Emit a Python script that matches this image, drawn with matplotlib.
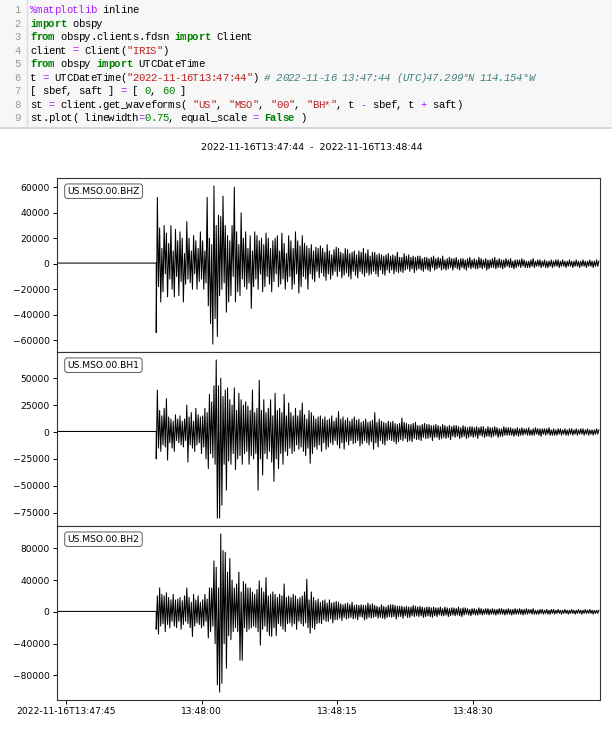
import matplotlib
matplotlib.use('Agg')
import matplotlib.pyplot as plt
import numpy as np
from matplotlib.patches import Rectangle
from matplotlib.ticker import FixedLocator, MultipleLocator

# --- data ---
start_label = "2022-11-16T13:47:44"
end_label = "2022-11-16T13:48:44"
trace_ids = ["US.MSO.00.BHZ", "US.MSO.00.BH1", "US.MSO.00.BH2"]
tick_seconds = [1, 16, 31, 46]
tick_labels = ["2022-11-16T13:47:45", "13:48:00", "13:48:15", "13:48:30"]
ytick_steps = [20000, 25000, 40000]

# flat part before the first arrival (seconds after start, counts/1000)
pre_t = [0.0, 11.0]
pre_v = [0.5, 0.5]
onset = 11.0
dt = 0.125   # 8 values per second after the onset, one row = one second

# counts / 1000
bhz = [
    -54, 52, -18, 28, -30, 12, -22, 30,    # 11 s
    -8, 24, -26, 16, -12, 30, -20, 10,
    -26, 27, -10, 18, -25, 25, -14, 20,
    -30, 8, -16, 33, -12, 20, -15, 10,
    -20, 22, -8, 18, -20, 12, -14, 25,     # 15 s
    -12, 18, -20, 10, -15, 52, -33, 20,
    -47, 15, -63, 61, -43, 30, -57, 38,
    -25, 37, -20, 53, -15, 30, -38, 22,
    -30, 18, -25, 30, -10, 60, -30, 25,
    -22, 15, -25, 40, -12, 20, -18, 25,    # 20 s
    -20, 12, -15, 22, -35, 10, -18, 25,
    -12, 22, -20, 18, -8, 20, -22, 15,
    -18, 24, -10, 20, -16, 12, -22, 18,
    -14, 20, -8, 22, -18, 10, -16, 24,
    -12, 16, -20, 8, -14, 22, -10, 18,     # 25 s
    -20, 12, -16, 25, -8, 18, -23, 14,
    -18, 22, -10, 16, -12, 14, -20, 12,
    -8, 15, -12, 10, -14, 13, -6, 12,
    -11, 14, -7, 12, -10, 9, -13, 15,
    -8, 10, -12, 7, -9, 11, -6, 13,        # 30 s
    -10, 12, -6, 9, -11, 8, -9, 12,
    -7, 11, -10, 8, -12, 9, -6, 10,
    -9, 7, -11, 10, -6, 9, -8, 12,
    -10, 8, -7, 11, -9, 6, -8, 9,
    -6, 9, -8, 7, -10, 8, -5, 7,           # 35 s
    -8, 6, -9, 7, -5, 8, -7, 6,
    -5, 7, -8, 6, -6, 9, -7, 5,
    -6, 5, -7, 8, -5, 6, -4, 7,
    -6, 5, -4, 6, -7, 5, -5, 6,
    -4, 6, -5, 4, -6, 5, -4, 5,            # 40 s
    -5, 4, -6, 5, -3, 6, -5, 4,
    -4, 5, -3, 4, -5, 6, -4, 3,
    -5, 4, -4, 5, -3, 4, -5, 4,
    -3, 5, -4, 3, -5, 4, -3, 4,
    -4, 3, -5, 4, -3, 5, -4, 3,            # 45 s
    -3, 4, -4, 3, -4, 5, -3, 4,
    -4, 3, -3, 4, -5, 3, -4, 3,
    -3, 4, -3, 5, -4, 3, -3, 4,
    -3, 3, -4, 3, -3, 4, -2, 3,
    -3, 4, -3, 2, -4, 3, -3, 3,            # 50 s
    -2, 3, -3, 4, -2, 3, -3, 2,
    -3, 2, -3, 3, -2, 4, -3, 2,
    -2, 3, -2, 3, -3, 2, -2, 3,
    -3, 2, -3, 2, -2, 3, -3, 2,
    -2, 3, -2, 3, -3, 2, -2, 3,            # 55 s
    -2, 2, -3, 2, -2, 3, -2, 2,
    -3, 2, -2, 3, -2, 2, -3, 2,
    -2, 3, -2, 2, -3, 2, -2, 3,
    -2, 2, -3, 2, -2, 3, -2, 2,
]
bh1 = [
    -25, 39, -15, 20, -18, 15, -12, 22,    # 11 s
    -14, 31, -26, 14, -10, 12, -15, 10,
    -18, 16, -8, 12, -10, 15, -12, 10,
    -14, 12, -8, 25, -28, 14, -12, 18,
    -15, 10, -18, 22, -12, 16, -10, 14,    # 15 s
    -20, 15, -14, 22, -25, 18, -34, 35,
    -20, 28, -24, 43, -30, 67, -80, 43,
    -80, 50, -68, 33, -30, 39, -54, 41,
    -27, 30, -30, 25, -20, 41, -35, 20,
    -25, 36, -22, 30, -30, 25, -20, 28,    # 20 s
    -18, 24, -30, 20, -22, 39, -25, 18,
    -20, 22, -54, 48, -25, 20, -40, 30,
    -20, 18, -25, 22, -18, 30, -28, 15,
    -46, 36, -25, 20, -34, 22, -20, 18,
    -30, 35, -18, 15, -22, 27, -15, 18,    # 25 s
    -20, 15, -18, 22, -12, 15, -16, 20,
    -14, 27, -18, 16, -22, 12, -15, 20,
    -29, 18, -20, 15, -14, 12, -16, 14,
    -12, 15, -18, 12, -10, 14, -16, 11,
    -14, 12, -10, 15, -12, 10, -8, 13,     # 30 s
    -12, 19, -15, 12, -10, 14, -16, 11,
    -9, 13, -12, 10, -8, 12, -11, 14,
    -10, 11, -8, 12, -13, 9, -11, 10,
    -8, 12, -10, 9, -12, 10, -9, 11,
    -16, 18, -10, 9, -14, 12, -8, 10,      # 35 s
    -11, 9, -12, 8, -8, 10, -7, 9,
    -8, 10, -9, 8, -11, 7, -9, 8,
    -7, 13, -8, 9, -6, 8, -9, 7,
    -8, 7, -9, 8, -6, 9, -7, 6,
    -7, 6, -8, 7, -5, 8, -6, 7,            # 40 s
    -6, 7, -5, 6, -8, 6, -5, 7,
    -5, 6, -7, 5, -6, 7, -5, 6,
    -6, 5, -5, 6, -7, 5, -4, 6,
    -5, 6, -4, 5, -6, 4, -5, 6,
    -4, 5, -6, 4, -5, 5, -4, 5,            # 45 s
    -5, 4, -4, 5, -6, 4, -3, 5,
    -4, 5, -5, 3, -4, 5, -4, 4,
    -5, 4, -4, 5, -3, 4, -5, 3,
    -4, 3, -4, 5, -3, 4, -3, 4,
    -3, 4, -3, 3, -4, 3, -3, 4,            # 50 s
    -4, 3, -3, 4, -3, 3, -2, 3,
    -3, 4, -3, 2, -3, 3, -3, 4,
    -2, 3, -3, 3, -4, 3, -2, 3,
    -3, 3, -2, 4, -3, 2, -3, 3,
    -3, 2, -3, 3, -2, 3, -3, 2,            # 55 s
    -2, 3, -3, 2, -3, 3, -2, 3,
    -3, 2, -2, 3, -3, 2, -2, 3,
    -2, 3, -3, 2, -2, 3, -3, 2,
    -2, 2, -3, 2, -2, 3, -2, 2,
]
bh2 = [
    -22, 20, -28, 30, -18, 22, -15, 20,    # 11 s
    -25, 24, -16, 18, -20, 15, -12, 22,
    -18, 15, -20, 16, -12, 18, -22, 14,
    -16, 20, -12, 30, -15, 18, -20, 12,
    -31, 22, -18, 15, -14, 20, -16, 12,    # 15 s
    -20, 15, -18, 22, -12, 16, -33, 30,
    -25, 30, -18, 64, -40, 56, -92, 30,
    -101, 98, -90, 77, -40, 75, -71, 50,
    -30, 67, -35, 40, -25, 30, -20, 35,
    -25, 50, -61, 25, -61, 38, -20, 35,    # 20 s
    -25, 30, -22, 30, -20, 25, -18, 22,
    -20, 28, -25, 39, -42, 30, -22, 25,
    -18, 43, -25, 20, -30, 22, -31, 25,
    -20, 22, -30, 18, -15, 22, -18, 20,
    -22, 35, -25, 18, -15, 20, -14, 18,    # 25 s
    -18, 22, -15, 20, -22, 16, -12, 18,
    -15, 20, -18, 25, -14, 41, -20, 15,
    -27, 25, -20, 18, -22, 14, -15, 16,
    -14, 12, -15, 14, -10, 15, -12, 11,
    -12, 15, -9, 11, -14, 12, -10, 13,     # 30 s
    -10, 12, -8, 10, -11, 9, -7, 10,
    -9, 11, -8, 9, -7, 12, -9, 8,
    -8, 9, -10, 8, -6, 9, -7, 8,
    -10, 8, -9, 11, -7, 9, -8, 10,
    -7, 8, -6, 7, -8, 6, -7, 9,            # 35 s
    -8, 7, -9, 6, -7, 8, -6, 9,
    -7, 9, -6, 8, -9, 7, -6, 7,
    -6, 7, -8, 6, -5, 7, -7, 6,
    -7, 6, -5, 8, -6, 7, -5, 6,
    -6, 7, -5, 6, -7, 5, -6, 6,            # 40 s
    -5, 6, -6, 5, -7, 6, -5, 5,
    -6, 5, -4, 6, -5, 4, -5, 6,
    -4, 5, -6, 4, -5, 5, -4, 5,
    -5, 4, -4, 6, -5, 4, -6, 5,
    -4, 5, -3, 4, -4, 3, -5, 4,            # 45 s
    -3, 4, -4, 3, -4, 5, -3, 4,
    -4, 3, -3, 4, -3, 4, -4, 3,
    -3, 4, -3, 3, -4, 3, -3, 4,
    -3, 4, -3, 3, -4, 3, -3, 4,
    -3, 3, -4, 3, -3, 4, -3, 3,            # 50 s
    -3, 4, -3, 3, -4, 3, -3, 4,
    -3, 3, -2, 3, -3, 4, -3, 2,
    -3, 2, -3, 3, -2, 3, -3, 2,
    -2, 3, -3, 2, -3, 3, -2, 3,
    -3, 2, -2, 3, -2, 2, -3, 2,            # 55 s
    -2, 3, -2, 2, -3, 2, -2, 3,
    -2, 2, -3, 2, -2, 3, -2, 2,
    -3, 2, -2, 3, -2, 2, -2, 3,
    -2, 2, -3, 2, -2, 2, -2, 2,
]

# --- notebook code cell shown above the plot ---
PURPLE = '#aa22ff'
GREEN = '#008000'
RED = '#ba2121'
TEAL = '#408080'
N, B, I = 'normal', 'bold', 'italic'
code_lines = [
    [("%matplotlib", PURPLE, N, N), (" inline", 'k', N, N)],
    [("import", GREEN, B, N), (" obspy", 'k', N, N)],
    [("from", GREEN, B, N), (" obspy.clients.fdsn ", 'k', N, N),
     ("import", GREEN, B, N), (" Client", 'k', N, N)],
    [("client ", 'k', N, N), ("=", PURPLE, N, N),
     (" Client(", 'k', N, N), ('"IRIS"', RED, N, N), (")", 'k', N, N)],
    [("from", GREEN, B, N), (" obspy ", 'k', N, N),
     ("import", GREEN, B, N), (" UTCDateTime", 'k', N, N)],
    [("t ", 'k', N, N), ("=", PURPLE, N, N),
     (" UTCDateTime(", 'k', N, N), ('"2022-11-16T13:47:44"', RED, N, N),
     (") ", 'k', N, N),
     ("# 2022-11-16 13:47:44 (UTC)47.299°N 114.154°W", TEAL, N, I)],
    [("[ sbef, saft ] ", 'k', N, N), ("=", PURPLE, N, N),
     (" [ ", 'k', N, N), ("0", GREEN, N, N), (", ", 'k', N, N),
     ("60", GREEN, N, N), (" ]", 'k', N, N)],
    [("st ", 'k', N, N), ("=", PURPLE, N, N),
     (" client.get_waveforms( ", 'k', N, N), ('"US"', RED, N, N),
     (", ", 'k', N, N), ('"MSO"', RED, N, N), (", ", 'k', N, N),
     ('"00"', RED, N, N), (", ", 'k', N, N), ('"BH*"', RED, N, N),
     (", t ", 'k', N, N), ("-", PURPLE, N, N),
     (" sbef, t ", 'k', N, N), ("+", PURPLE, N, N),
     (" saft)", 'k', N, N)],
    [("st.plot( linewidth", 'k', N, N), ("=", PURPLE, N, N),
     ("0.75", GREEN, N, N), (", equal_scale ", 'k', N, N),
     ("=", PURPLE, N, N), (" ", 'k', N, N),
     ("False", GREEN, B, N), (" )", 'k', N, N)],
]

W, H = 612, 730
fig = plt.figure(figsize=(W / 100, H / 100), dpi=100)

# overlay in pixel units for the code cell
cax = fig.add_axes([0, 0, 1, 1])
cax.set_xlim(0, W)
cax.set_ylim(H, 0)
cax.axis('off')
cax.patch.set_visible(False)
cax.add_patch(Rectangle((0, 0), W, 127, facecolor='#f7f7f7', edgecolor='none'))
cax.plot([0, W], [127.5, 127.5], color='#cfcfcf', lw=1.2)
cax.plot([27, 27], [0, 127], color='#dddddd', lw=1.0)

char_w = 6.0
code_fs = 7.7
for k, tokens in enumerate(code_lines):
    y = 13.0 + 13.54 * k   # baseline of line k
    cax.text(21, y, str(k + 1), ha='right', va='baseline', color='#999999',
             family='Liberation Mono', fontsize=code_fs)
    col = 0
    for txt, color, weight, style in tokens:
        # one glyph per 6 px cell, like the notebook's monospace grid
        for ch in txt:
            if ch != ' ':
                cax.text(30 + char_w * col, y, ch, ha='left', va='baseline', color=color,
                         family='Liberation Mono', fontsize=code_fs, fontweight=weight,
                         fontstyle=style)
            col += 1

# --- seismogram panels ---
fig.text(312 / W, 1 - 147 / H, f"{start_label}  -  {end_label}", ha='center', va='center',
         fontsize=6.8)

left_px, right_px = 56.6, 600.0
tops = [178, 352, 526]
ax_h = 174
traces = [bhz, bh1, bh2]
for n, (vals, tid, step) in enumerate(zip(traces, trace_ids, ytick_steps)):
    ax = fig.add_axes([left_px / W, 1 - (tops[n] + ax_h) / H, (right_px - left_px) / W, ax_h / H])
    t_event = onset + dt * np.arange(len(vals))
    t_all = np.concatenate([pre_t, t_event])
    v_all = np.concatenate([pre_v, vals]) * 1000
    ax.plot(t_all, v_all, color='k', lw=0.75)
    ax.set_xlim(0, 60)
    ax.margins(y=0.05)
    ax.yaxis.set_major_locator(MultipleLocator(step))
    ax.tick_params(labelsize=6.6, length=3, width=0.7, pad=2)
    ax.text(0.02, 0.95, tid, transform=ax.transAxes, ha='left', va='top', fontsize=6.6,
            bbox=dict(boxstyle='round', fc='w', ec='#333333', lw=0.7, alpha=0.8))
    ax.xaxis.set_major_locator(FixedLocator(tick_seconds))
    if n < 2:
        ax.tick_params(axis='x', bottom=False, labelbottom=False)
    else:
        ax.set_xticklabels(tick_labels)
    for sp in ax.spines.values():
        sp.set_color('#333333')

plt.savefig('out.png', dpi=100)
